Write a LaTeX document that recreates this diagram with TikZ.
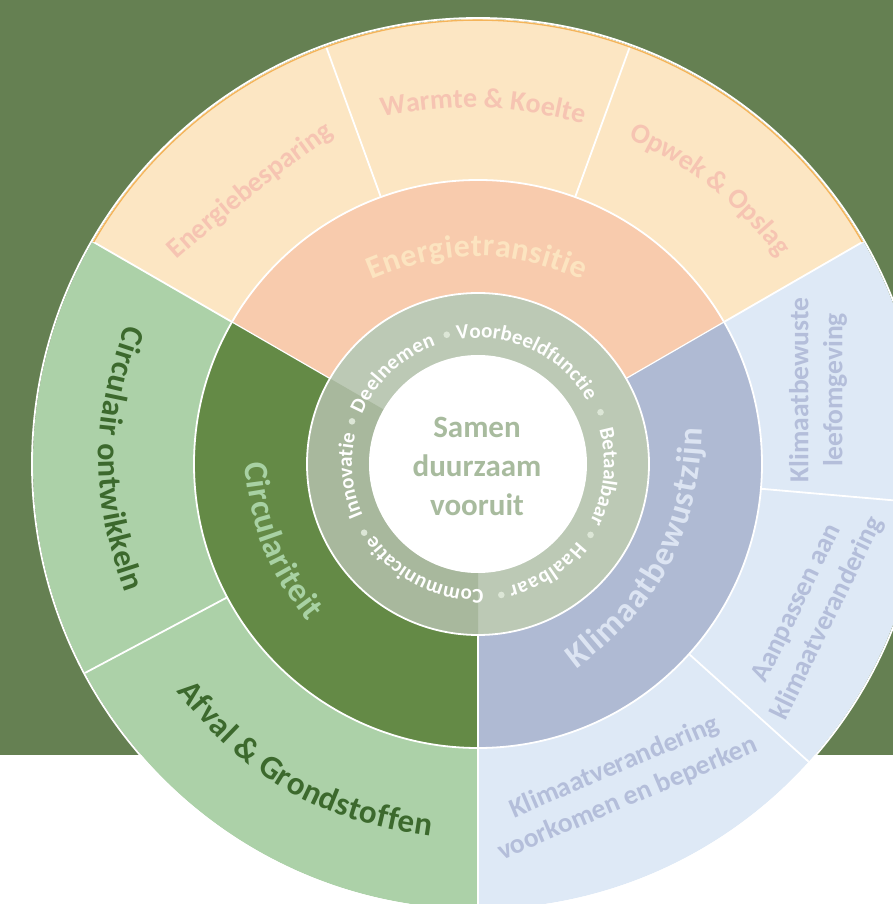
\documentclass[tikz,border=0pt]{standalone}
\usepackage{fontspec}
\setmainfont{Carlito}
\usetikzlibrary{decorations.text}
\definecolor{bggreen}{RGB}{101,128,82}
\definecolor{etout}{RGB}{252,230,195}
\definecolor{etmid}{RGB}{248,203,173}
\definecolor{etink}{RGB}{246,196,178}
\definecolor{etmidink}{RGB}{252,228,192}
\definecolor{circout}{RGB}{172,209,168}
\definecolor{circmid}{RGB}{100,138,70}
\definecolor{circink}{RGB}{60,105,45}
\definecolor{circmidink}{RGB}{168,209,163}
\definecolor{klimout}{RGB}{222,233,246}
\definecolor{klimmid}{RGB}{175,186,211}
\definecolor{klimink}{RGB}{180,190,218}
\definecolor{klimmidink}{RGB}{220,228,242}
\definecolor{ringlight}{RGB}{188,201,181}
\definecolor{ringdark}{RGB}{168,184,157}
\definecolor{dotc}{RGB}{220,230,214}
\definecolor{mottoc}{RGB}{168,187,158}
\definecolor{rimorange}{RGB}{244,180,90}
\begin{document}
\begin{tikzpicture}[x=1pt,y=1pt,
    sep/.style={white,line width=1.8pt},
    curved/.style n args={3}{decorate,decoration={text along path,text align=fit to path,text color=#1,text={|\fontsize{#2}{#2}\selectfont\bfseries|#3}}},
    klimtext/.style={text=klimink,align=center,font=\fontsize{27.5pt}{34pt}\selectfont\bfseries},
    ]
    \useasboundingbox (-478,-440) rectangle (415,464);
    \fill[bggreen] (-478,-291) rectangle (415,464);

    \foreach \a/\b/\c in {30/150/etout,150/270/circout,270/390/klimout}
        \fill[\c] (\a:284) arc[start angle=\a,end angle=\b,radius=284] -- (\b:445) arc[start angle=\b,end angle=\a,radius=445] -- cycle;
    \foreach \a/\b/\c in {30/150/etmid,150/270/circmid,270/390/klimmid}
        \fill[\c] (\a:171) arc[start angle=\a,end angle=\b,radius=171] -- (\b:284) arc[start angle=\b,end angle=\a,radius=284] -- cycle;
    \fill[ringlight] (0,0) circle[radius=171];
    \fill[ringdark] (150:109) arc[start angle=150,end angle=270,radius=109] -- (270:171) arc[start angle=270,end angle=150,radius=171] -- cycle;
    \fill[white] (0,0) circle[radius=109];

    \foreach \a in {30,70,110,150,208,270,318,355}
        \draw[sep] (\a:284) -- (\a:445);
    \foreach \a in {30,150,270}
        \draw[sep,line width=1.2pt] (\a:171) -- (\a:284);
    \draw[sep] (0,0) circle[radius=171];
    \draw[sep] (0,0) circle[radius=284];
    \draw[rimorange,line width=1.3pt] (30:443.8) arc[start angle=30,end angle=150,radius=443.8];
    \draw[sep] (0,0) circle[radius=446];

    \path[curved={etink}{28pt}{Energiebesparing}] (-301,204) to[bend left=3] (-144,329);
    \path[curved={etink}{28pt}{Warmte {\&} Koelte}] (-96,347) to[bend left=12] (103,341);
    \path[curved={etink}{28pt}{Opwek {\&} Opslag}] (150,325) to[bend left=13] (298,210);
    \path[curved={etmidink}{32pt}{Energietransitie}] (-106,184) to[bend left=23] (104,184);
    \path[curved={circmidink}{34pt}{Circulariteit}] (-233,1) to[bend right=17] (-170,-158);
    \path[curved={klimmidink}{34pt}{Klimaatbewustzijn}] (98,-205) to[bend right=26] (224,36);
    \path[curved={circink}{32pt}{Circulair ontwikkeln}] (-352,139) to[bend right=20] (-353,-129);
    \path[curved={circink}{33pt}{Afval {\&} Grondstoffen}] (-301,-227) to[bend right=22] (-47,-372);

    \node[klimtext,rotate=90] (leefomgeving) at (340,74) {Klimaatbewuste\\leefomgeving};
    \node[klimtext,rotate=64] (aanpassen) at (335,-147) {Aanpassen aan\\klimaatverandering};
    \node[klimtext,rotate=23] (voorkomen) at (143,-319) {Klimaatverandering\\voorkomen en beperken};

    \path[curved={white}{21pt}{Voorbeeldfunctie}] (99.5:126) arc[start angle=99.5,end angle=30,radius=126];
    \path[curved={white}{21pt}{Betaalbaar}] (16:126) arc[start angle=16,end angle=-27.5,radius=126];
    \path[curved={white}{21pt}{Haalbaar}] (-38:126) arc[start angle=-38,end angle=-76,radius=126];
    \path[curved={white}{21pt}{Communicatie}] (-87.5:126) arc[start angle=-87.5,end angle=-145.5,radius=126];
    \path[curved={white}{21pt}{Innovatie}] (204:126) arc[start angle=204,end angle=166.5,radius=126];
    \path[curved={white}{21pt}{Deelnemen}] (157:126) arc[start angle=157,end angle=109.5,radius=126];
    \foreach \a in {103.6,22.9,-32.2,-79.9,211.1,161.3}
        \fill[dotc] (\a:133) circle[radius=3.3];

    \node[text=mottoc,align=center,font=\fontsize{31pt}{39pt}\selectfont\bfseries] (samen) at (-1,-2) {Samen\\duurzaam\\vooruit};
\end{tikzpicture}
\end{document}
